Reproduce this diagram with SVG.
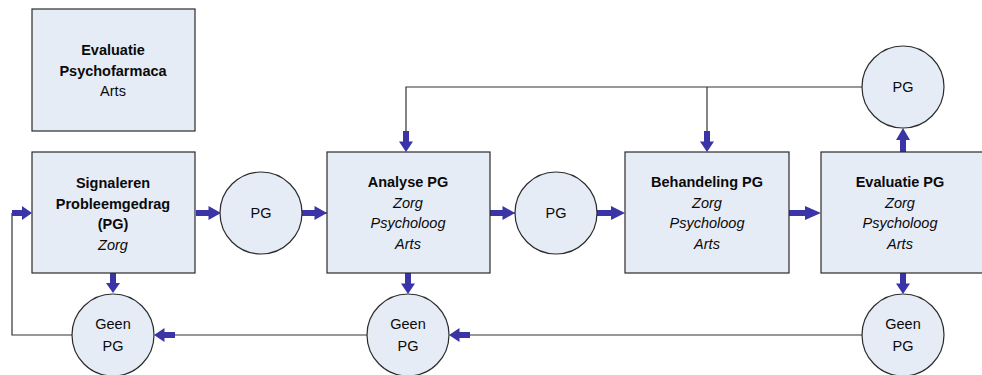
<svg xmlns="http://www.w3.org/2000/svg" width="982" height="375" viewBox="0 0 982 375">
<defs>
<style>
.box{fill:#e6ecf6;stroke:#2b2b2b;stroke-width:1.2}
.t{font-family:"Liberation Sans",Arial,sans-serif;font-size:14.5px;fill:#0a0a0a;text-anchor:middle}
.b{font-weight:bold}
.i{font-style:italic}
.ln{fill:none;stroke:#333;stroke-width:1.2}
.ar{fill:#3a34a6}
</style>
<path id="arR" d="M0,-3 L10,-3 L10,-7 L20,0 L10,7 L10,3 L0,3 Z"/>
</defs>
<rect width="982" height="375" fill="#fff"/>
<g id="connectors">
<polyline class="ln" points="72,335 12,335 12,213"/>
<line class="ln" x1="368" y1="335" x2="160" y2="335"/>
<line class="ln" x1="862" y1="335" x2="455" y2="335"/>
<polyline class="ln" points="862,87 406,87 406,135"/>
<line class="ln" x1="707" y1="87" x2="707" y2="135"/>
<line class="ln" x1="113" y1="265" x2="113" y2="280"/>
<line class="ln" x1="302" y1="213" x2="327" y2="213"/>
<line class="ln" x1="490" y1="213" x2="515" y2="213"/>
<g class="ar">
<use href="#arR" transform="translate(12,213)"/>
<use href="#arR" transform="translate(196,213) scale(1.25,1)"/>
<use href="#arR" transform="translate(302,213) scale(1.25,1)"/>
<use href="#arR" transform="translate(490,213) scale(1.25,1)"/>
<use href="#arR" transform="translate(597,213) scale(1.4,1)"/>
<use href="#arR" transform="translate(789,213) scale(1.6,1)"/>
<use href="#arR" transform="translate(903,152) rotate(-90) scale(1.2,1)"/>
<use href="#arR" transform="translate(903,273) rotate(90) scale(1.05,1)"/>
<use href="#arR" transform="translate(113,273) rotate(90) scale(1.0,1)"/>
<use href="#arR" transform="translate(408,273) rotate(90) scale(1.05,1)"/>
<use href="#arR" transform="translate(406,131) rotate(90) scale(1.05,1)"/>
<use href="#arR" transform="translate(707,131) rotate(90) scale(1.05,1)"/>
<use href="#arR" transform="translate(175,335) rotate(180) scale(1.05,1)"/>
<use href="#arR" transform="translate(470,335) rotate(180) scale(1.05,1)"/>
</g>
</g>
<g id="evalPsycho">
<rect class="box" x="32" y="9" width="163" height="122"/>
<text class="t b" x="113" y="55">Evaluatie</text>
<text class="t b" x="113" y="76">Psychofarmaca</text>
<text class="t" x="113" y="96">Arts</text>
</g>
<g id="signaleren">
<rect class="box" x="32" y="152" width="163" height="121"/>
<text class="t b" x="113" y="188">Signaleren</text>
<text class="t b" x="113" y="209">Probleemgedrag</text>
<text class="t b" x="113" y="229">(PG)</text>
<text class="t i" x="113" y="250">Zorg</text>
</g>
<g id="analyse">
<rect class="box" x="327" y="152" width="163" height="121"/>
<text class="t b" x="408" y="187">Analyse PG</text>
<text class="t i" x="408" y="208">Zorg</text>
<text class="t i" x="408" y="228">Psycholoog</text>
<text class="t i" x="408" y="249">Arts</text>
</g>
<g id="behandeling">
<rect class="box" x="625" y="152" width="164" height="121"/>
<text class="t b" x="707" y="187">Behandeling PG</text>
<text class="t i" x="707" y="208">Zorg</text>
<text class="t i" x="707" y="228">Psycholoog</text>
<text class="t i" x="707" y="249">Arts</text>
</g>
<g id="evaluatie">
<rect class="box" x="821" y="152" width="170" height="121"/>
<text class="t b" x="900" y="187">Evaluatie PG</text>
<text class="t i" x="900" y="208">Zorg</text>
<text class="t i" x="900" y="228">Psycholoog</text>
<text class="t i" x="900" y="249">Arts</text>
</g>
<g id="pg1">
<circle class="box" cx="261" cy="213" r="41"/>
<text class="t" x="261" y="218">PG</text>
</g>
<g id="pg2">
<circle class="box" cx="556" cy="213" r="41"/>
<text class="t" x="556" y="218">PG</text>
</g>
<g id="pg3">
<circle class="box" cx="903" cy="87" r="41"/>
<text class="t" x="903" y="92">PG</text>
</g>
<g id="geen1">
<circle class="box" cx="113" cy="335" r="41"/>
<text class="t" x="113" y="329">Geen</text>
<text class="t" x="113" y="351">PG</text>
</g>
<g id="geen2">
<circle class="box" cx="408" cy="335" r="41"/>
<text class="t" x="408" y="329">Geen</text>
<text class="t" x="408" y="351">PG</text>
</g>
<g id="geen3">
<circle class="box" cx="903" cy="335" r="41"/>
<text class="t" x="903" y="329">Geen</text>
<text class="t" x="903" y="351">PG</text>
</g>
</svg>
